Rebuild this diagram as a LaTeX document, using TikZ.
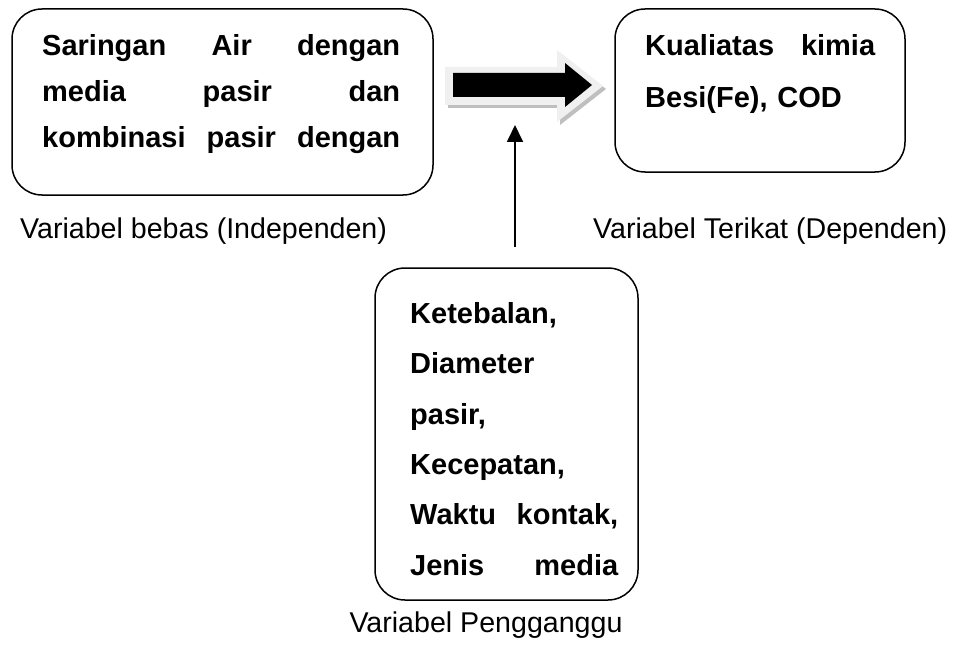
\documentclass[tikz,border=0pt]{standalone}
\usepackage{fontspec}
\setmainfont{Liberation Sans}
\usepackage{tikz}
\usetikzlibrary{arrows.meta,positioning}

\begin{document}
\begin{tikzpicture}[x=1pt, y=-1pt]

  \newcommand{\rata}[2]{\leavevmode\hbox to #1{#2}}
  \tikzset{kotak/.style =
	{draw, line width=1.5pt, rounded corners=30pt},
	isi/.style =
	{anchor=north west, inner sep=0pt, align=left,
	font=\bfseries\fontsize{29}{46}\selectfont},
	ket/.style =
	{inner sep=0pt, font=\fontsize{28.6}{34}\selectfont}}
  \useasboundingbox (0,0) rectangle (969,650);

  % kotak variabel
  \draw[kotak] (12,9) rectangle (433,195);
  \draw[kotak] (615,9) rectangle (905,172);
  \draw[kotak] (375,268) rectangle (638,600);

  \node[isi, text width=358pt] (bebas) at (42,34)
	{\rata{358pt}{Saringan\hfill Air\hfill dengan}\\
	 \rata{358pt}{media\hfill pasir\hfill dan}\\
	 \rata{358pt}{kombinasi\hfill pasir\hfill dengan}};
  \node[isi, text width=230pt, font=\bfseries\fontsize{29}{52}\selectfont] (terikat) at (645,34)
	{\rata{230pt}{Kualiatas\hfill kimia}\\ Besi(Fe), COD};
  \node[isi, text width=208pt, font=\bfseries\fontsize{29}{50.4}\selectfont] (ganggu) at (410,302)
	{Ketebalan,\\ Diameter\\ pasir,\\ Kecepatan,\\
	 \rata{208pt}{Waktu\hfill kontak,}\\ \rata{208pt}{Jenis\hfill media}};

  \node[ket, anchor=base west] (ketBebas) at (20,238) {Variabel bebas (Independen)};
  \node[ket, anchor=base west] (ketTerikat) at (593,238) {Variabel Terikat (Dependen)};
  \node[ket, anchor=base] (ketGanggu) at (486,632) {Variabel Pengganggu};

  % panah besar
  \fill[black!25] (448,70) -- (560,70) -- (560,53) -- (606,89) -- (560,125) -- (560,108) -- (448,108) -- cycle;
  \fill[black!6] (445,67) -- (557,67) -- (557,50) -- (603,86) -- (557,122) -- (557,105) -- (445,105) -- cycle;
  \fill[black] (453,73) -- (565,73) -- (565,63) -- (592,85) -- (565,107) -- (565,97) -- (453,97) -- cycle;

  % panah pengganggu
  \coordinate (pangkal) at (515,247);
  \coordinate (ujung) at (515,125);
  \draw[line width=1.8pt, -{Triangle[width=16pt,length=17pt]}] (pangkal) -- (ujung);

\end{tikzpicture}
\end{document}
